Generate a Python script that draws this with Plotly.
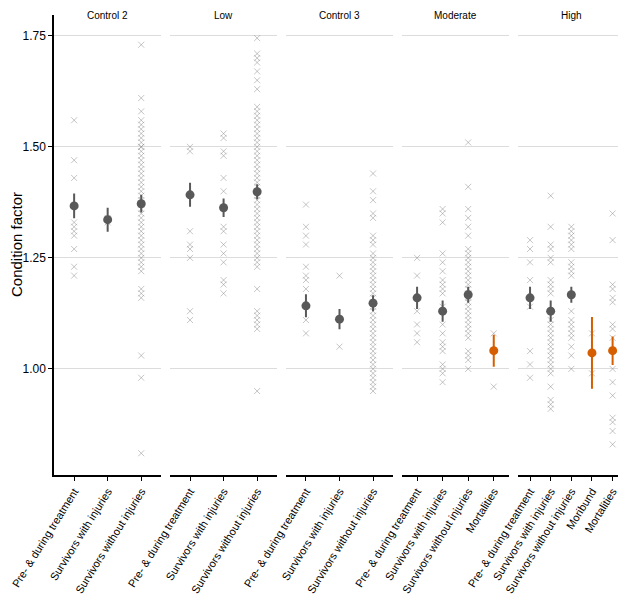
import plotly.graph_objects as go
from plotly.subplots import make_subplots

groups = ["Control 2", "Low", "Control 3", "Moderate", "High"]

PRE = "Pre- & during treatment"
SWI = "Survivors with injuries"
SWO = "Survivors without injuries"
MOR = "Moribund"
MRT = "Mortalities"

group_cats = [
    [PRE, SWI, SWO],
    [PRE, SWI, SWO],
    [PRE, SWI, SWO],
    [PRE, SWI, SWO, MRT],
    [PRE, SWI, SWO, MOR, MRT],
]

# individual fish (condition factor)
c2_pre = [1.56, 1.47, 1.43, 1.33, 1.32, 1.31, 1.30, 1.27, 1.23, 1.21]
c2_swi = [1.34, 1.33]
c2_swo = [1.73, 1.61, 1.58, 1.56, 1.55, 1.54, 1.53, 1.52, 1.51, 1.50, 1.50, 1.49,
          1.48, 1.47, 1.46, 1.45, 1.44, 1.43, 1.42, 1.41, 1.40, 1.39, 1.38, 1.37,
          1.36, 1.35, 1.34, 1.33, 1.32, 1.31, 1.30, 1.29, 1.28, 1.27, 1.26, 1.25,
          1.24, 1.23, 1.22, 1.18, 1.17, 1.16, 1.03, 0.98, 0.81]

low_pre = [1.50, 1.49, 1.31, 1.28, 1.27, 1.25, 1.13, 1.11]
low_swi = [1.53, 1.52, 1.49, 1.48, 1.43, 1.40, 1.32, 1.31, 1.28, 1.26, 1.24,
           1.20, 1.19, 1.17]
low_swo = [1.745, 1.71, 1.70, 1.69, 1.67, 1.65, 1.63, 1.59, 1.58, 1.57, 1.56,
           1.55, 1.54, 1.53, 1.52, 1.51, 1.50, 1.49, 1.48, 1.47, 1.46, 1.45,
           1.44, 1.43, 1.42, 1.41, 1.40, 1.39, 1.38, 1.37, 1.36, 1.35, 1.34,
           1.33, 1.32, 1.31, 1.30, 1.29, 1.28, 1.27, 1.26, 1.25, 1.24, 1.23,
           1.18, 1.13, 1.12, 1.11, 1.10, 1.09, 0.95]

c3_pre = [1.37, 1.32, 1.30, 1.28, 1.23, 1.21, 1.20, 1.18, 1.11, 1.08]
c3_swi = [1.21, 1.05]
c3_swo = [1.44, 1.40, 1.38, 1.35, 1.34, 1.30, 1.29, 1.28, 1.26, 1.25, 1.24,
          1.23, 1.22, 1.21, 1.20, 1.19, 1.18, 1.17, 1.16, 1.15, 1.14, 1.13,
          1.12, 1.11, 1.10, 1.09, 1.08, 1.07, 1.06, 1.05, 1.04, 1.03, 1.02,
          1.01, 1.00, 0.99, 0.98, 0.97, 0.96, 0.95]

mod_pre = [1.25, 1.21, 1.13, 1.10, 1.08, 1.06]
mod_swi = [1.36, 1.35, 1.33, 1.26, 1.24, 1.22, 1.20, 1.19, 1.18, 1.17, 1.14,
           1.10, 1.08, 1.06, 1.05, 1.04, 1.01, 1.00, 0.99, 0.97]
mod_swo = [1.51, 1.41, 1.36, 1.34, 1.32, 1.30, 1.27, 1.26, 1.25, 1.24, 1.23,
           1.22, 1.21, 1.20, 1.19, 1.18, 1.17, 1.16, 1.15, 1.14, 1.13, 1.12,
           1.11, 1.10, 1.09, 1.08, 1.07, 1.04, 1.03, 1.02, 1.00]
mod_mrt = [1.08, 0.96]

hi_pre = [1.29, 1.27, 1.24, 1.20, 1.14, 1.04, 1.01, 0.98]
hi_swi = [1.39, 1.32, 1.28, 1.27, 1.25, 1.24, 1.20, 1.19, 1.18, 1.17, 1.11,
          1.10, 1.09, 1.08, 1.07, 1.06, 1.05, 1.04, 1.03, 1.02, 1.01, 1.00,
          0.99, 0.96, 0.93, 0.92, 0.91]
hi_swo = [1.32, 1.31, 1.30, 1.29, 1.28, 1.27, 1.24, 1.23, 1.22, 1.21, 1.13,
          1.11, 1.10, 1.09, 1.08, 1.07, 1.05, 1.03, 1.00]
hi_mor = [1.08, 0.99]
hi_mrt = [1.35, 1.29, 1.19, 1.18, 1.16, 1.15, 1.10, 1.09, 1.07, 1.00, 0.97,
          0.94, 0.89, 0.88, 0.86, 0.83]

group_points = [
    [c2_pre, c2_swi, c2_swo],
    [low_pre, low_swi, low_swo],
    [c3_pre, c3_swi, c3_swo],
    [mod_pre, mod_swi, mod_swo, mod_mrt],
    [hi_pre, hi_swi, hi_swo, hi_mor, hi_mrt],
]

# group means and 95% CI half-widths
group_means = [
    [1.367, 1.336, 1.372],
    [1.392, 1.363, 1.399],
    [1.142, 1.112, 1.148],
    [1.160, 1.130, 1.167, 1.041],
    [1.160, 1.130, 1.167, 1.036, 1.041],
]
group_ci = [
    [0.028, 0.027, 0.020],
    [0.027, 0.021, 0.017],
    [0.026, 0.023, 0.018],
    [0.025, 0.024, 0.018, 0.036],
    [0.025, 0.024, 0.018, 0.081, 0.032],
]

GREY = "#595959"
ORANGE = "#d55e00"
FONT = "Arial, Liberation Sans, sans-serif"

fig = make_subplots(rows=1, cols=5, shared_yaxes=True, horizontal_spacing=0.015)

for i, g in enumerate(groups):
    col = i + 1
    cats = group_cats[i]
    for cat, vals in zip(cats, group_points[i]):
        fig.add_trace(go.Scatter(
            x=[cat] * len(vals), y=vals, mode="markers",
            marker=dict(symbol="x-thin", size=6,
                        line=dict(width=1, color="rgba(140,140,140,0.5)")),
            hoverinfo="y", showlegend=False), row=1, col=col)
    # mean markers, grey for survivors, orange for moribund / mortalities
    for colour, keep in [(GREY, lambda c: c in (PRE, SWI, SWO)),
                         (ORANGE, lambda c: c in (MOR, MRT))]:
        xs = [c for c in cats if keep(c)]
        if not xs:
            continue
        idx = [cats.index(c) for c in xs]
        fig.add_trace(go.Scatter(
            x=xs, y=[group_means[i][k] for k in idx], mode="markers",
            marker=dict(symbol="circle", size=9, color=colour),
            error_y=dict(type="data", array=[group_ci[i][k] for k in idx],
                         visible=True, thickness=2, width=0, color=colour),
            showlegend=False), row=1, col=col)

    fig.update_xaxes(
        type="category", categoryorder="array", categoryarray=cats,
        range=[-0.6, len(cats) - 0.4], tickangle=-58, automargin=False,
        showline=True, linecolor="black", linewidth=1.5,
        ticks="outside", ticklen=4, tickcolor="black", tickwidth=1,
        showgrid=False, zeroline=False,
        tickfont=dict(family=FONT, size=11, color="black"),
        row=1, col=col)

    fig.add_annotation(
        text=g, xref=f"x{'' if col == 1 else col} domain", yref="paper",
        x=0.5, y=1, yanchor="top", yshift=7, showarrow=False,
        font=dict(family=FONT, size=10, color="black"))

fig.update_yaxes(
    range=[0.761, 1.797], tickvals=[1.00, 1.25, 1.50, 1.75],
    ticktext=["1.00", "1.25", "1.50", "1.75"], automargin=False,
    showgrid=True, gridcolor="#dcdcdc", gridwidth=1, zeroline=False)
fig.update_yaxes(
    showline=True, linecolor="black", linewidth=1.5,
    ticks="outside", ticklen=4, tickcolor="black",
    tickfont=dict(family=FONT, size=12, color="black"),
    row=1, col=1)

# y title as a rotated annotation so it sits right at the left edge
fig.add_annotation(
    text="Condition factor", textangle=-90, xref="paper", yref="paper",
    x=0, y=0.5, xanchor="center", yanchor="middle", xshift=-38, borderpad=0,
    showarrow=False, font=dict(family=FONT, size=15, color="black"))

# the page adds an 8px body margin, so the figure is drawn 8px smaller
fig.update_layout(
    width=618, height=588,
    margin=dict(l=46, r=1, t=7, b=121),
    paper_bgcolor="white", plot_bgcolor="white",
    font=dict(family=FONT),
)

fig.write_html("out.html")
